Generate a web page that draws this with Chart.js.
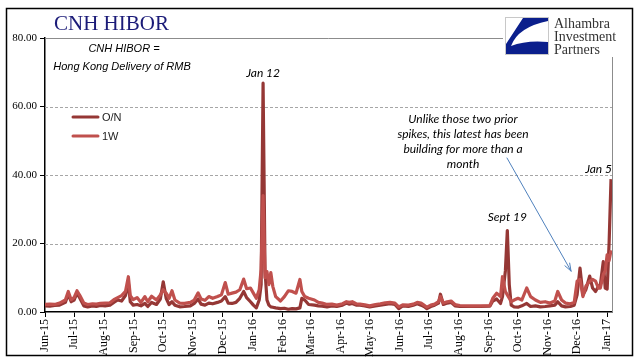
<!DOCTYPE html>
<html>
<head>
<meta charset="utf-8">
<script src="https://cdn.jsdelivr.net/npm/chart.js@4/dist/chart.umd.min.js"></script>
<style>
  html, body { margin: 0; padding: 0; background: #fff; }
  #wrap { width: 641px; height: 361px; }
</style>
</head>
<body>
<div id="wrap"><canvas id="c" width="641" height="361"></canvas></div>
<script>
// day offsets from 1 Jun 2015
const days = [0,5,10,15,21,24,27,30,33,36,40,44,49,53,57,62,67,71,75,79,
  83,86,88,91,95,99,103,106,110,115,119,122,125,128,131,134,139,144,150,154,
  158,161,165,169,173,178,182,186,189,193,197,201,205,208,212,215,218,221,223,225,
  227,229,231,233,235,238,243,247,251,255,259,263,265,268,272,278,282,286,291,296,
  301,307,311,314,317,321,325,330,335,341,346,351,356,361,365,369,375,380,384,388,
  391,394,398,402,406,408,411,415,419,423,428,439,449,459,462,466,470,472,475,477,
  479,481,484,488,492,497,501,506,511,516,521,526,529,533,537,542,546,549,552,555,
  558,562,565,568,571,573,576,578,580,582,584];

const onRate = [1.8,1.7,1.9,2.0,2.8,5.2,3.0,3.5,5.5,4.0,1.8,1.5,1.8,1.6,1.9,1.8,2.0,2.8,3.5,3.2,
  4.8,8.5,3.0,2.0,2.2,1.8,2.5,1.6,2.8,2.2,3.8,8.8,4.0,2.2,3.0,2.0,1.5,1.6,1.8,2.5,
  3.8,2.3,2.0,2.6,2.4,2.8,3.2,4.5,2.6,2.5,2.8,4.0,6.0,4.2,3.0,2.0,1.2,3.5,8.0,66.8,
  12.0,3.5,2.0,1.5,1.4,1.2,1.0,1.1,0.8,1.0,0.9,1.2,4.0,3.5,2.2,2.0,1.8,1.7,1.5,1.8,
  1.6,2.0,2.6,2.3,2.5,2.0,2.0,1.8,1.5,1.8,2.0,2.2,2.4,2.2,1.0,1.8,1.6,2.0,2.4,2.0,
  1.6,1.0,1.6,2.0,2.6,5.2,2.2,2.6,2.8,1.8,1.6,1.6,1.6,1.7,3.2,3.8,2.5,4.5,12.0,23.8,
  8.0,2.0,1.5,1.4,1.8,2.5,1.6,1.8,1.5,1.6,1.8,2.0,3.0,1.8,1.5,1.6,2.0,5.0,12.8,5.0,
  6.5,10.5,7.0,6.0,7.5,8.0,14.7,7.0,6.7,20.0,38.8];

const wRate = [2.2,2.3,2.2,2.6,3.5,6.0,3.6,4.2,6.2,4.8,2.6,2.2,2.4,2.3,2.5,2.6,2.7,3.6,4.2,4.8,
  6.0,10.3,4.8,3.6,4.2,2.8,4.5,3.0,4.6,3.5,5.0,6.5,5.5,4.0,6.2,3.5,2.6,2.5,2.8,3.5,
  5.6,3.8,3.4,4.5,4.0,4.5,5.0,8.6,5.2,5.5,5.8,6.5,9.6,6.8,7.0,5.5,4.0,6.5,12.5,34.0,
  10.0,11.8,8.0,11.5,7.5,4.5,3.2,4.5,6.2,6.0,5.5,9.5,6.0,4.5,4.0,3.5,2.8,2.6,2.2,2.3,
  2.0,2.4,3.0,2.8,3.0,2.4,2.3,2.1,1.8,2.2,2.4,2.7,2.8,2.6,1.5,2.1,2.0,2.3,2.8,2.6,
  2.0,1.4,2.0,2.3,3.0,4.5,2.6,3.0,3.2,2.2,1.9,1.8,1.8,1.9,4.0,5.5,4.5,10.3,6.0,5.0,
  4.0,3.0,3.5,4.0,3.5,7.0,4.5,3.5,2.8,3.0,2.6,3.2,6.0,3.5,2.6,2.4,2.8,9.0,9.5,4.5,
  7.5,9.0,9.5,9.0,7.0,7.0,11.0,12.0,16.7,15.0,18.0];

const monthLabels = ['Jun-15','Jul-15','Aug-15','Sep-15','Oct-15','Nov-15','Dec-15',
  'Jan-16','Feb-16','Mar-16','Apr-16','May-16','Jun-16','Jul-16','Aug-16','Sep-16',
  'Oct-16','Nov-16','Dec-16','Jan-17'];
const yTicks = [0, 20, 40, 60, 80];

// month start -> day offset (axis positions only)
const MS_DAY = 86400000;
const start = Date.UTC(2015, 5, 1);
const monthOffsets = monthLabels.map((_, i) =>
  Math.round((Date.UTC(2015, 5 + i, 1) - start) / MS_DAY));

const toPts = (vals) => vals.map((v, i) => ({ x: days[i], y: v }));

const ON_COLOR = '#953735';
const W_COLOR = '#C0504D';
const SERIF = '"Liberation Serif", "Times New Roman", serif';
const SANS = '"Liberation Sans", Arial, sans-serif';
const NOTE = 'Lato, "Open Sans", sans-serif';

const decor = {
  id: 'decor',
  beforeDatasetsDraw(chart) {
    const { ctx, chartArea: a, scales: { y } } = chart;
    ctx.save();
    // dashed gridlines
    ctx.strokeStyle = '#A6A6A6';
    ctx.lineWidth = 1;
    ctx.setLineDash([3, 2]);
    yTicks.slice(1, -1).forEach((v) => {
      const py = Math.round(y.getPixelForValue(v)) + 0.5;
      ctx.beginPath();
      ctx.moveTo(a.left, py);
      ctx.lineTo(a.right, py);
      ctx.stroke();
    });
    ctx.setLineDash([]);
    // plot border top/right
    ctx.strokeStyle = '#8C8C8C';
    ctx.beginPath();
    ctx.moveTo(a.left, a.top + 0.5);
    ctx.lineTo(a.right + 0.5, a.top + 0.5);
    ctx.lineTo(a.right + 0.5, a.bottom);
    ctx.stroke();
    ctx.restore();
  },
  afterDraw(chart) {
    const { ctx, scales: { x, y } } = chart;
    ctx.save();

    // outer frame
    ctx.strokeStyle = '#000';
    ctx.lineWidth = 1.5;
    ctx.strokeRect(6.5, 8.5, 626, 347);

    // title
    ctx.fillStyle = '#1B1B78';
    ctx.font = '21px ' + SERIF;
    ctx.textAlign = 'left';
    ctx.textBaseline = 'alphabetic';
    ctx.fillText('CNH HIBOR', 54, 30);

    // definition note
    ctx.fillStyle = '#000';
    ctx.font = 'italic 11px ' + SANS;
    ctx.textAlign = 'center';
    ctx.fillText('CNH HIBOR =', 124, 52);
    ctx.fillText('Hong Kong Delivery of RMB', 122, 70);

    // legend
    [['O/N', ON_COLOR, 117], ['1W', W_COLOR, 136]].forEach(([t, c, ly]) => {
      ctx.strokeStyle = c;
      ctx.lineWidth = 3;
      ctx.lineCap = 'round';
      ctx.beginPath();
      ctx.moveTo(73, ly);
      ctx.lineTo(98, ly);
      ctx.stroke();
      ctx.fillStyle = '#222';
      ctx.font = '11px ' + SANS;
      ctx.textAlign = 'left';
      ctx.textBaseline = 'middle';
      ctx.fillText(t, 102, ly + 0.5);
    });

    // spike labels
    ctx.fillStyle = '#000';
    ctx.font = 'italic 12px ' + NOTE;
    ctx.textBaseline = 'alphabetic';
    ctx.textAlign = 'center';
    ctx.fillText('Jan 12', x.getPixelForValue(225), y.getPixelForValue(67) - 6);
    ctx.fillText('Sept 19', x.getPixelForValue(477), y.getPixelForValue(24) - 9);
    ctx.textAlign = 'right';
    ctx.fillText('Jan 5', x.getPixelForValue(585), y.getPixelForValue(40) - 2);

    // annotation
    ctx.textAlign = 'center';
    ['Unlike those two prior', 'spikes, this latest has been',
     'building for more than a', 'month'].forEach((l, i) => {
      ctx.fillText(l, 463, 123 + i * 15);
    });

    // arrow
    const ax0 = 507, ay0 = 158, ax1 = 571, ay1 = 271;
    ctx.strokeStyle = '#4F81BD';
    ctx.lineWidth = 1;
    ctx.beginPath();
    ctx.moveTo(ax0, ay0);
    ctx.lineTo(ax1, ay1);
    ctx.stroke();
    const ang = Math.atan2(ay1 - ay0, ax1 - ax0);
    ctx.beginPath();
    ctx.moveTo(ax1, ay1);
    ctx.lineTo(ax1 - 8 * Math.cos(ang - 0.35), ay1 - 8 * Math.sin(ang - 0.35));
    ctx.moveTo(ax1, ay1);
    ctx.lineTo(ax1 - 8 * Math.cos(ang + 0.35), ay1 - 8 * Math.sin(ang + 0.35));
    ctx.stroke();

    // logo
    ctx.fillStyle = '#fff';
    ctx.fillRect(503, 13, 126, 44);
    ctx.strokeStyle = '#C8C8C8';
    ctx.lineWidth = 1;
    ctx.strokeRect(505.5, 17.5, 43, 37);
    ctx.fillStyle = '#0B1F8C';
    ctx.beginPath();
    ctx.moveTo(523, 18);
    ctx.lineTo(548, 18);
    ctx.lineTo(548, 21);
    ctx.quadraticCurveTo(518, 27, 511, 46);
    ctx.quadraticCurveTo(526, 40, 548, 42);
    ctx.lineTo(548, 54);
    ctx.lineTo(506, 54);
    ctx.lineTo(506, 44);
    ctx.closePath();
    ctx.fill();
    ctx.fillStyle = '#333';
    ctx.font = '14px ' + SERIF;
    ctx.textAlign = 'left';
    ctx.fillText('Alhambra', 554, 28);
    ctx.fillText('Investment', 554, 41);
    ctx.fillText('Partners', 554, 54);
    ctx.restore();
  }
};

new Chart(document.getElementById('c'), {
  type: 'line',
  data: {
    datasets: [
      { label: 'O/N', data: toPts(onRate), borderColor: ON_COLOR, order: 2 },
      { label: '1W', data: toPts(wRate), borderColor: W_COLOR, order: 1 }
    ]
  },
  options: {
    responsive: false,
    animation: false,
    layout: { padding: { left: 0, right: 29, top: 38, bottom: 0 } },
    elements: {
      point: { radius: 0 },
      line: { borderWidth: 3.2, tension: 0, borderJoinStyle: 'round' }
    },
    plugins: { legend: { display: false }, tooltip: { enabled: false } },
    scales: {
      x: {
        type: 'linear',
        min: 0,
        max: 585,
        afterBuildTicks: (s) => { s.ticks = monthOffsets.map((v) => ({ value: v })); },
        afterFit: (s) => { s.height = 49; },
        ticks: {
          autoSkip: false,
          minRotation: 90,
          maxRotation: 90,
          padding: 2,
          color: '#000',
          font: { family: SERIF, size: 12 },
          callback: (v, i) => monthLabels[i]
        },
        grid: { drawOnChartArea: false, color: '#000', tickLength: 5 },
        border: { color: '#000', width: 1.5 }
      },
      y: {
        min: 0,
        max: 80,
        afterBuildTicks: (s) => { s.ticks = yTicks.map((v) => ({ value: v })); },
        afterFit: (s) => { s.width = 45; },
        ticks: {
          padding: 3,
          color: '#000',
          font: { family: SERIF, size: 11 },
          callback: (v) => Number(v).toFixed(2)
        },
        grid: { drawOnChartArea: false, color: '#000', tickLength: 5 },
        border: { color: '#000', width: 1.5 }
      }
    }
  },
  plugins: [decor]
});
</script>
</body>
</html>
